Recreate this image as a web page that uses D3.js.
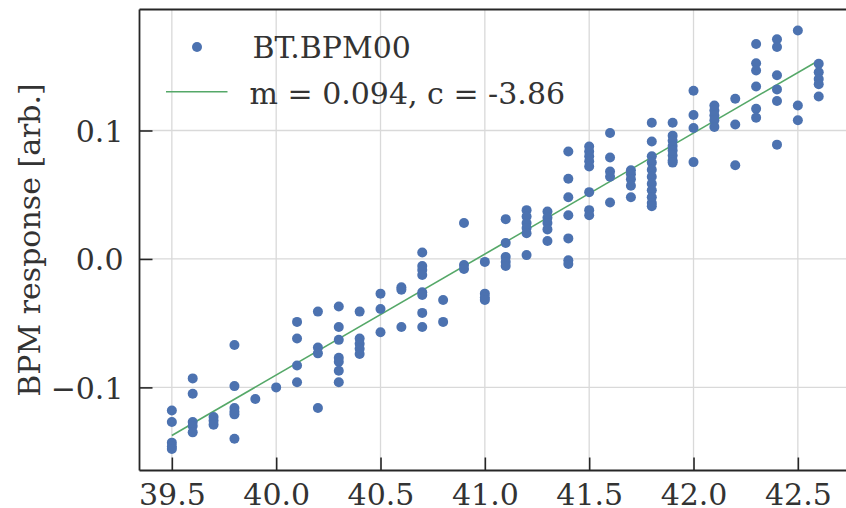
<!DOCTYPE html>
<html>
<head>
<meta charset="utf-8">
<script src="https://cdn.jsdelivr.net/npm/d3@7"></script>
<style>
  html, body { margin: 0; padding: 0; background: #ffffff; }
  svg { display: block; }
</style>
</head>
<body>
<div id="chart"></div>
<script>
// ---- data ----
const seriesName = "BT.BPM00";
const fitLabel = "m = 0.094, c = -3.86";
const fitSlope = 0.0942;
const fitIntercept = -3.8584;
const currents = [39.5, 39.6, 39.7, 39.8, 39.9, 40.0, 40.1, 40.2, 40.3, 40.4, 40.5, 40.6, 40.7, 40.8, 40.9, 41.0,
                  41.1, 41.2, 41.3, 41.4, 41.5, 41.6, 41.7, 41.8, 41.9, 42.0, 42.1, 42.2, 42.3, 42.4, 42.5, 42.6];
const responses = [
  [-0.118, -0.127, -0.143, -0.146, -0.148],
  [-0.093, -0.105, -0.127, -0.130, -0.135],
  [-0.123, -0.126, -0.129],
  [-0.067, -0.099, -0.116, -0.119, -0.121, -0.140],
  [-0.109],
  [-0.100],
  [-0.049, -0.062, -0.083, -0.096],
  [-0.041, -0.069, -0.0735, -0.116],
  [-0.037, -0.053, -0.063, -0.077, -0.080, -0.087, -0.096],
  [-0.041, -0.062, -0.066, -0.070, -0.074],
  [-0.027, -0.039, -0.057],
  [-0.022, -0.024, -0.053],
  [0.005, -0.0055, -0.0086, -0.0125, -0.026, -0.028, -0.042, -0.053],
  [-0.032, -0.049],
  [0.028, -0.0047, -0.0078],
  [-0.0023, -0.027, -0.030, -0.032],
  [0.031, 0.0125, 0.0016, -0.0023, -0.0055],
  [0.038, 0.033, 0.028, 0.024, 0.020, 0.003],
  [0.037, 0.032, 0.028, 0.023, 0.014],
  [0.0836, 0.0625, 0.048, 0.034, 0.016, -0.001, -0.004],
  [0.0875, 0.0836, 0.080, 0.076, 0.072, 0.052, 0.038, 0.034],
  [0.098, 0.079, 0.068, 0.064, 0.044],
  [0.069, 0.066, 0.062, 0.057, 0.048],
  [0.106, 0.0915, 0.080, 0.075, 0.0695, 0.064, 0.0586, 0.0534, 0.048, 0.0436, 0.041],
  [0.106, 0.096, 0.092, 0.088, 0.0845, 0.0806, 0.0767, 0.075],
  [0.131, 0.112, 0.102, 0.0754],
  [0.1195, 0.1156, 0.1117, 0.108, 0.1028],
  [0.1247, 0.1047, 0.073],
  [0.1674, 0.1524, 0.1467, 0.1342, 0.1169, 0.110],
  [0.171, 0.165, 0.143, 0.132, 0.123, 0.089],
  [0.1778, 0.1195, 0.108],
  [0.152, 0.1453, 0.140, 0.136, 0.1265]
];
const xTicks = [39.5, 40.0, 40.5, 41.0, 41.5, 42.0, 42.5];
const yTicks = [-0.1, 0.0, 0.1];
const yLabel = "BPM response [arb.]";

// ---- layout ----
const W = 846, H = 508;
const plotLeft = 139.5, plotTop = 9.5, plotBottom = 470.5;
const pxPerUnit = 208.67;
const xDomain = [39.345, 42.755];
const plotRight = plotLeft + (xDomain[1] - xDomain[0]) * pxPerUnit;
const FONT = "'DejaVu Serif', serif";
const FS = "30px";
const textColor = "#262626";
const labelColor = "#333333";
const blue = "#4c72b0", green = "#55a868";

const points = [];
currents.forEach((c, i) => responses[i].forEach(v => points.push({x: c, y: v})));

const x = d3.scaleLinear().domain(xDomain).range([plotLeft, plotRight]);
const y = d3.scaleLinear().domain([-0.1647, 0.1942]).range([plotBottom, plotTop]);

const svg = d3.select("#chart").append("svg")
  .attr("width", W).attr("height", H)
  .style("font-family", FONT);

svg.append("rect").attr("width", W).attr("height", H).attr("fill", "#fff");

// grid
const grid = svg.append("g");
grid.selectAll("line.gx").data(xTicks).join("line")
  .attr("x1", d => x(d)).attr("x2", d => x(d))
  .attr("y1", plotTop).attr("y2", plotBottom)
  .attr("stroke", "#d9d9d9").attr("stroke-width", 1.3);
grid.selectAll("line.gy").data(yTicks).join("line")
  .attr("x1", plotLeft).attr("x2", plotRight)
  .attr("y1", d => y(d)).attr("y2", d => y(d))
  .attr("stroke", "#d9d9d9").attr("stroke-width", 1.3);

// fit line
const fitX = d3.extent(currents);
svg.append("line")
  .attr("x1", x(fitX[0])).attr("y1", y(fitSlope * fitX[0] + fitIntercept))
  .attr("x2", x(fitX[1])).attr("y2", y(fitSlope * fitX[1] + fitIntercept))
  .attr("stroke", green).attr("stroke-width", 1.6);

// points
svg.append("g").selectAll("circle").data(points).join("circle")
  .attr("cx", d => x(d.x)).attr("cy", d => y(d.y))
  .attr("r", 5).attr("fill", blue);

// axes (ticks inward)
const xAxis = d3.axisBottom(x).tickValues(xTicks).tickFormat(d3.format(".1f"))
  .tickSizeInner(-13).tickSizeOuter(0).tickPadding(24);
const gx = svg.append("g").attr("transform", `translate(0,${plotBottom})`).call(xAxis);
const fmtY = d => d3.format(".1f")(d).replace("-", "\u2212");
const yAxis = d3.axisLeft(y).tickValues(yTicks).tickFormat(fmtY)
  .tickSizeInner(-13).tickSizeOuter(0).tickPadding(29);
const gy = svg.append("g").attr("transform", `translate(${plotLeft},0)`).call(yAxis);

[gx, gy].forEach(g => {
  g.select(".domain").remove();
  g.selectAll(".tick line").attr("stroke", textColor).attr("stroke-width", 1.6);
  g.selectAll(".tick text").attr("fill", labelColor).style("font-size", FS).style("font-family", FONT);
});
gx.selectAll(".tick text").attr("dy", null).attr("y", 34.5);
gy.selectAll(".tick text").attr("x", -16).attr("dy", "0.36em");

// spines: left, top, bottom (right lies beyond the cropped image)
svg.append("line").attr("x1", plotLeft).attr("x2", plotLeft).attr("y1", plotTop).attr("y2", plotBottom)
  .attr("stroke", textColor).attr("stroke-width", 1.8);
svg.append("line").attr("x1", plotLeft).attr("x2", plotRight).attr("y1", plotTop).attr("y2", plotTop)
  .attr("stroke", textColor).attr("stroke-width", 1.8);
svg.append("line").attr("x1", plotLeft).attr("x2", plotRight).attr("y1", plotBottom).attr("y2", plotBottom)
  .attr("stroke", textColor).attr("stroke-width", 1.8);

// y label
svg.append("text")
  .attr("transform", `translate(40,${(plotTop + plotBottom) / 2}) rotate(-90)`)
  .attr("text-anchor", "middle")
  .attr("fill", labelColor)
  .style("font-size", FS)
  .text(yLabel);

// legend
const lg = svg.append("g");
lg.append("circle").attr("cx", 197).attr("cy", 47).attr("r", 5).attr("fill", blue);
lg.append("text").attr("x", 252.5).attr("y", 57.7).attr("fill", labelColor)
  .style("font-size", FS).text(seriesName);
lg.append("line").attr("x1", 166).attr("x2", 227.5).attr("y1", 91.7).attr("y2", 91.7)
  .attr("stroke", green).attr("stroke-width", 1.6);
lg.append("text").attr("x", 249.5).attr("y", 103.5).attr("fill", labelColor)
  .style("font-size", FS).text(fitLabel);
</script>
</body>
</html>
